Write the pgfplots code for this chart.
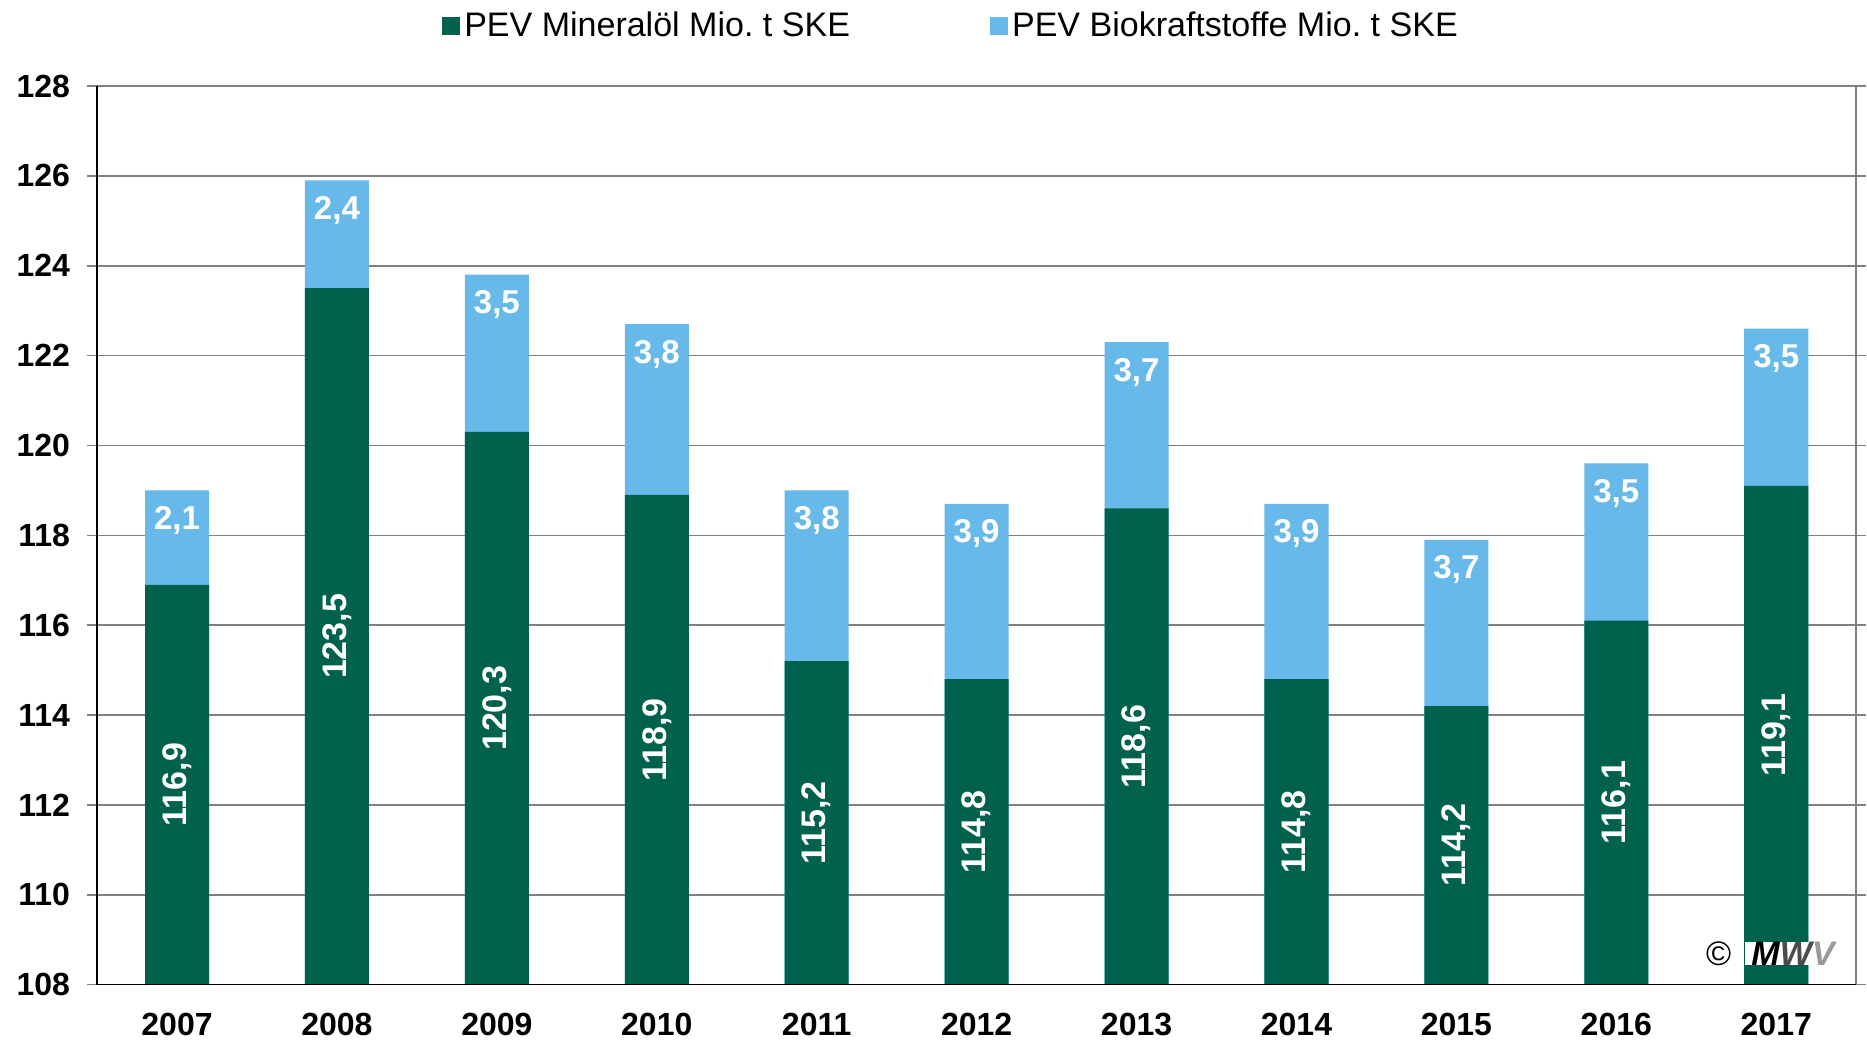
\documentclass[border=0pt]{standalone}
\usepackage{pgfplots}
\usepackage{pgfplotstable}
\pgfplotsset{compat=1.18}
\usepackage{fontspec}
\setmainfont{Liberation Sans}
\frenchspacing
\definecolor{mgreen}{RGB}{0,98,77}
\definecolor{mblue}{RGB}{102,185,232}
\definecolor{gridgray}{RGB}{128,128,128}
\pgfplotstableread{
x green total mid glab blab
0 116.9 119.0 112.45 116,9 2,1
1 123.5 125.9 115.75 123,5 2,4
2 120.3 123.8 114.15 120,3 3,5
3 118.9 122.7 113.45 118,9 3,8
4 115.2 119.0 111.60 115,2 3,8
5 114.8 118.7 111.40 114,8 3,9
6 118.6 122.3 113.30 118,6 3,7
7 114.8 118.7 111.40 114,8 3,9
8 114.2 117.9 111.10 114,2 3,7
9 116.1 119.6 112.05 116,1 3,5
10 119.1 122.6 113.55 119,1 3,5
}\data
\begin{document}
\begin{tikzpicture}
\begin{axis}[
  scale only axis,
  width=879pt, height=449pt,
  xmin=-0.5, xmax=10.5,
  ymin=108, ymax=128,
  ytick={108,110,...,128},
  xtick={0,...,10},
  xticklabels={2007,2008,2009,2010,2011,2012,2013,2014,2015,2016,2017},
  x tick style={draw=none},
  extra x ticks={-0.5,0.5,...,10.5},
  extra x tick labels={},
  extra x tick style={tick style={draw=black, line width=0.6pt}, major tick length=5pt, tick align=outside, grid=none},
  y tick style={draw=gridgray, line width=0.8pt},
  major tick length=5pt,
  tick align=outside,
  ymajorgrids,
  grid style={gridgray, line width=0.8pt},
  axis line style={gridgray, line width=0.8pt},
  tick label style={font=\bfseries\fontsize{16}{18}\selectfont},
  /pgf/number format/assume math mode=true,
  yticklabel style={xshift=-5pt},
  xticklabel style={yshift=-5.5pt},
  legend columns=2,
  reverse legend,
  legend style={at={(0.486,1.067)}, anchor=center, draw=none, fill=none,
    font=\fontsize{17}{19}\selectfont, /tikz/every even column/.append style={column sep=68pt}},
  legend image code/.code={\fill[#1] (0pt,-4.5pt) rectangle (9pt,4.5pt);},
  after end axis/.code={
    \draw[black, line width=0.8pt] (rel axis cs:0,0) -- (rel axis cs:0,1);
    \draw[black, line width=0.8pt] (rel axis cs:0,0) -- (rel axis cs:1,0);
    \path ([xshift=-48.5pt, yshift=-27.5pt]rel axis cs:0,0);
    \path ([xshift=5pt, yshift=43pt]rel axis cs:1,1);
  },
]
\addplot[ybar, bar width=32pt, bar shift=0pt, fill=mblue, draw=none,
  nodes near coords, point meta=explicit symbolic,
  every node near coord/.style={anchor=center, yshift=-15pt, text=white, font=\bfseries\fontsize{16.5}{18}\selectfont}]
  table[x=x, y=total, meta=blab] {\data};
\addlegendentry{PEV Biokraftstoffe Mio. t SKE}
\addplot[ybar, bar width=32pt, bar shift=0pt, fill=mgreen, draw=none]
  table[x=x, y=green] {\data};
\addlegendentry{PEV Mineralöl Mio. t SKE}
\addplot[draw=none, mark=none, forget plot,
  nodes near coords, point meta=explicit symbolic,
  every node near coord/.style={anchor=center, rotate=90, text=white, font=\bfseries\fontsize{17}{18}\selectfont}]
  table[x=x, y=mid, meta=glab] {\data};
\node[fill=white, inner sep=0pt, minimum width=48pt, minimum height=11pt, font=\bfseries\itshape\fontsize{17}{17}\selectfont] at (axis cs:10.105,108.69)
  {\textcolor{black}{M}\textcolor{black!70}{W}\textcolor{black!40}{V}};
\node[font=\fontsize{17}{17}\selectfont] at (axis cs:9.64,108.69) {©};
\end{axis}
\end{tikzpicture}
\end{document}
